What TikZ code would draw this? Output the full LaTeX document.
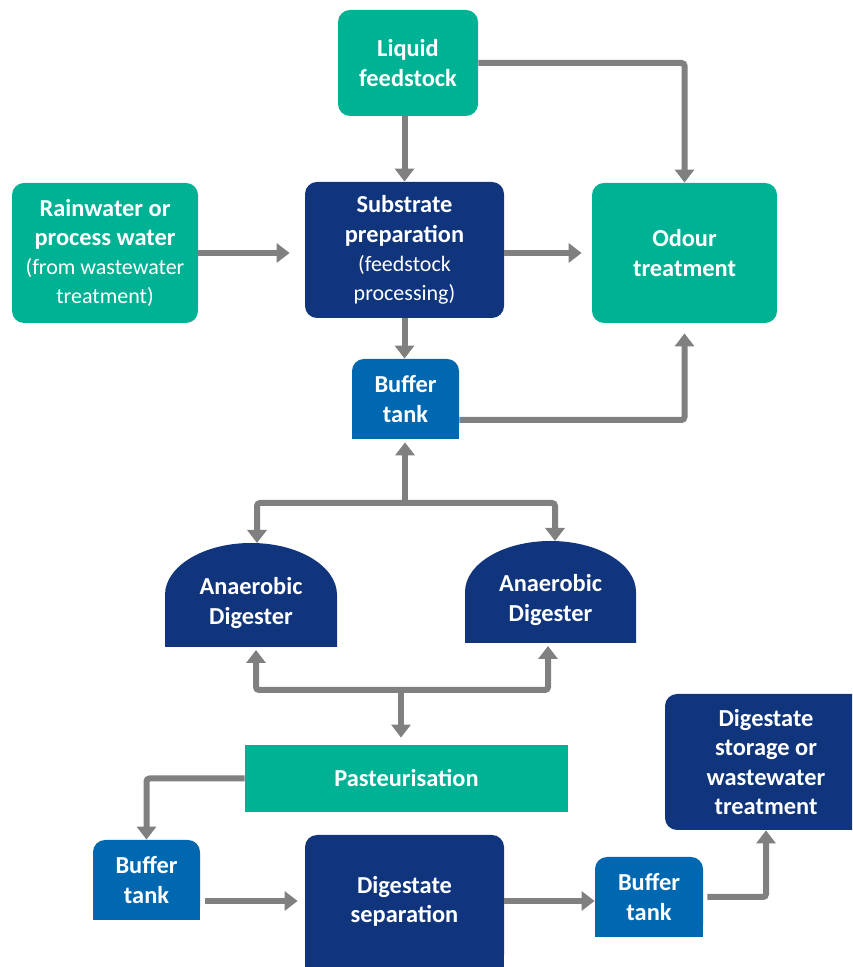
\documentclass[tikz,border=0pt]{standalone}
\usepackage{fontspec}
\setmainfont{Carlito}
\usetikzlibrary{positioning,arrows.meta,backgrounds,calc}
\definecolor{tealbox}{RGB}{0,178,148}
\definecolor{navybox}{RGB}{16,53,125}
\definecolor{tankblue}{RGB}{0,104,176}
\definecolor{flowgray}{RGB}{128,128,128}
\tikzset{
  box/.style={text=white, align=center, inner sep=0pt, rounded corners=6pt,
    font=\fontsize{12.2}{14.6}\selectfont\bfseries},
  flow/.style={draw=flowgray, line width=3pt, rounded corners=1.5pt,
    -{Triangle[width=9.5pt,length=6.5pt]}},
}
\newcommand{\plainpart}[1]{{\mdseries\fontsize{11}{14.6}\selectfont #1}}

\begin{document}
\begin{tikzpicture}[x=0.5pt,y=0.5pt]
    \useasboundingbox (0,0) rectangle (852,967);
    \clip (0,0) rectangle (852,967);
    % feed side
    \node[box, fill=tealbox, minimum width=70pt, minimum height=53pt] (liquid) at (408,904) {Liquid\\feedstock};
    \node[box, fill=tealbox, minimum width=93pt, minimum height=70pt] (rain) at (105,714)
        {Rainwater or\\process water\\\plainpart{(from wastewater}\\\plainpart{treatment)}};
    \node[box, fill=navybox, minimum width=99.5pt, minimum height=68pt] (subst) at (404.5,717)
        {Substrate\\preparation\\\plainpart{(feedstock}\\\plainpart{processing)}};
    \node[box, fill=tealbox, minimum width=92.5pt, minimum height=70pt] (odour) at (684.5,714) {Odour\\treatment};
    \node[box, fill=tankblue, minimum width=53.5pt, minimum height=40pt] (buf1) at (405.5,568) {Buffer\\tank};
    % digesters
    \node[box] (dig1) at (251,364) {Anaerobic\\Digester};
    \node[box] (dig2) at (550.5,367) {Anaerobic\\Digester};
    \coordinate (dig1 top) at ($(dig1.center)+(6,60)$);
    \coordinate (dig1 bot) at ($(dig1.center)+(5,-44)$);
    \coordinate (dig2 top) at ($(dig2.center)+(4.5,59)$);
    \coordinate (dig2 bot) at ($(dig2.center)+(-2.5,-43)$);
    % digestate side
    \node[box, sharp corners, fill=tealbox, minimum width=161.5pt, minimum height=33.5pt] (past) at (406.5,188.5) {Pasteurisation};
    \node[box, fill=tankblue, minimum width=53.5pt, minimum height=40pt] (buf2) at (146.5,87) {Buffer\\tank};
    \node[box, fill=navybox, minimum width=99.5pt, minimum height=66pt] (sep) at (404.5,66) {Digestate\\separation};
    \node[box, fill=tankblue, minimum width=54pt, minimum height=40pt] (buf3) at (649,70) {Buffer\\tank};
    \node[box, fill=navybox, minimum width=101pt, minimum height=68pt] (store) at (766,205)
        {Digestate\\storage or\\wastewater\\treatment};

    \begin{scope}[on background layer]
        \fill[navybox] ($(dig1.center)+(-86,-44)$) -- ++(0,52)
            arc[start angle=180, end angle=0, x radius=43pt, y radius=26pt] -- ++(0,-52) -- cycle;
        \fill[navybox] ($(dig2.center)+(-85.5,-43)$) -- ++(0,51)
            arc[start angle=180, end angle=0, x radius=42.75pt, y radius=25.5pt] -- ++(0,-51) -- cycle;
        \foreach \t in {buf1,buf2,buf3}
            \fill[tankblue] (\t.south west) rectangle (\t.east);
        \fill[navybox] (sep.south west) rectangle (sep.east);
    \end{scope}

    \coordinate (split top) at (405,464);
    \coordinate (split bot) at (401,277);

    \draw[flow] (liquid.south -| subst.north) -- (subst.north);
    \draw[flow] (liquid.east) -| (odour.north);
    \draw[flow, shorten >=7.5pt] (rain.east) -- (rain.east -| subst.west);
    \draw[flow, shorten >=5pt] (rain.east -| subst.east) -- (rain.east -| odour.west);
    \draw[flow] (subst.south) -- (subst.south |- buf1.north);
    \draw[flow, shorten >=5pt] ([yshift=-10.5pt]buf1.east) -| (odour.south);
    \draw[flow, shorten >=1.5pt] (split top) -- (split top |- buf1.south);
    \draw[flow] (split top) -| (dig1 top);
    \draw[flow] (split top) -| (dig2 top);
    \draw[flow, shorten >=1.5pt] (split bot) -| (dig1 bot);
    \draw[flow, shorten >=1.5pt] (split bot) -| (dig2 bot);
    \draw[flow, shorten >=3.5pt] (split bot) -- (split bot |- past.north);
    \draw[flow] (past.west) -| (buf2.north);
    \draw[flow, shorten <=2.5pt, shorten >=3.5pt] (sep.west -| buf2.east) -- (sep.west);
    \draw[flow] (sep.east) -- (sep.east -| buf3.west);
    \draw[flow, shorten <=2pt] (buf3.east) -| (store.south);
\end{tikzpicture}
\end{document}
